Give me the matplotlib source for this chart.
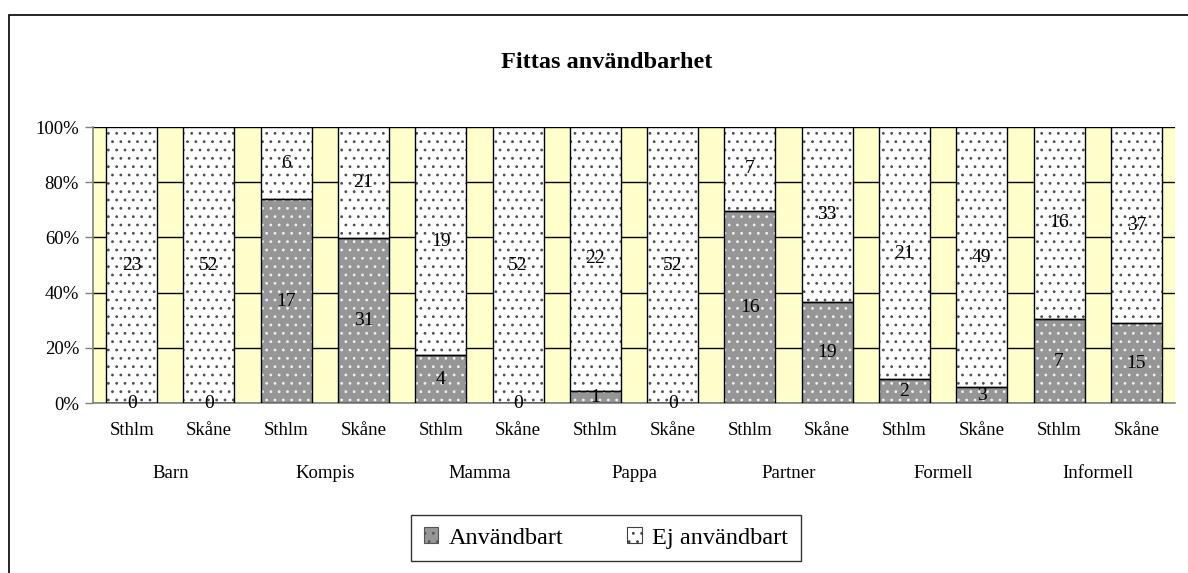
import matplotlib
matplotlib.use("Agg")
import matplotlib.pyplot as plt
import matplotlib.transforms as mtransforms
from matplotlib.patches import Patch, Rectangle
import numpy as np

plt.rcParams['font.family'] = ['Liberation Serif', 'DejaVu Serif']
plt.rcParams['hatch.linewidth'] = 0.8

groups = ["Barn", "Kompis", "Mamma", "Pappa", "Partner", "Formell", "Informell"]
regions = ["Sthlm", "Skåne"]
anvandbart = [0, 0, 17, 31, 4, 0, 1, 0, 16, 19, 2, 3, 7, 15]
ej_anvandbart = [23, 52, 6, 21, 19, 52, 22, 52, 7, 33, 21, 49, 16, 37]
series_names = ["Användbart", "Ej användbart"]
title = "Fittas användbarhet"

W, H = 1188, 573
fig = plt.figure(figsize=(W / 100, H / 100), dpi=100)
ax = fig.add_axes([93 / W, 1 - 403 / H, (1175 - 93) / W, (403 - 127) / H])
ax.set_facecolor('#FFFFCC')

a = np.array(anvandbart, dtype=float)
e = np.array(ej_anvandbart, dtype=float)
tot = a + e
pa = a / tot * 100
pe = e / tot * 100
x = np.arange(len(a))
bw = 0.66
gray = '#969696'

# bottom segments: gray with white dots
ax.bar(x, pa, bw, color=gray, edgecolor='#F0F0F0', hatch='..', linewidth=0, zorder=2)
ax.bar(x, pa, bw, fill=False, edgecolor='black', linewidth=1, zorder=3)
# top segments: white with dark dots
ax.bar(x, pe, bw, bottom=pa, color='white', edgecolor='#505050', hatch='..', linewidth=0, zorder=2)
ax.bar(x, pe, bw, bottom=pa, fill=False, edgecolor='black', linewidth=1, zorder=3)

for i in range(len(x)):
    ax.text(x[i], pa[i] / 2, f"{int(a[i])}", ha='center', va='center', fontsize=14, zorder=5, clip_on=False)
    ax.text(x[i], pa[i] + pe[i] / 2, f"{int(e[i])}", ha='center', va='center', fontsize=14, zorder=5, clip_on=False)

ax.set_xlim(-0.5, len(x) - 0.5)
ax.set_ylim(0, 100)
ax.set_yticks(np.arange(0, 101, 20))
ax.set_yticklabels([f"{v}%" for v in range(0, 101, 20)], fontsize=13.5)
ax.yaxis.grid(True, color='black', linewidth=1)
ax.set_axisbelow(True)
ax.set_xticks(x)
ax.set_xticklabels(regions * len(groups), fontsize=13.5)
ax.tick_params(axis='x', length=0, pad=14)
ax.tick_params(axis='y', length=6, width=1, color='#808080', pad=4)
for s in ['top', 'right']:
    ax.spines[s].set_visible(False)
ax.spines['left'].set_color('#808080')
ax.spines['bottom'].set_color('#808080')
ax.spines['left'].set_linewidth(1.2)
ax.spines['bottom'].set_linewidth(1.2)

trans = mtransforms.blended_transform_factory(ax.transData, fig.transFigure)
for gi, g in enumerate(groups):
    ax.text(2 * gi + 0.5, 1 - 473 / H, g, transform=trans, ha='center', va='center', fontsize=13.5)

fig.text(607 / W, 1 - 62 / H, title, ha='center', va='center', fontsize=17.5, fontweight='bold')

handles = [Patch(facecolor=gray, edgecolor='#555555', hatch='..', linewidth=0.8),
           Patch(facecolor='white', edgecolor='#404040', hatch='..', linewidth=0.8)]
leg = fig.legend(handles, series_names, loc='center', bbox_to_anchor=(606 / W, 1 - 538 / H),
                 ncol=2, fontsize=17.5, frameon=True, fancybox=False, shadow=False,
                 handlelength=0.6, handleheight=0.6, handletextpad=0.45, columnspacing=2.6,
                 borderpad=0.5, borderaxespad=0)
leg.get_frame().set_edgecolor('black')
leg.get_frame().set_linewidth(1)

# outer chart frame (left and top visible)
fig.add_artist(Rectangle((9 / W, -0.1), 1.2, 1 - 15 / H + 0.1, transform=fig.transFigure,
                         fill=False, edgecolor='black', linewidth=1.2))

fig.savefig('out.png', dpi=100)
